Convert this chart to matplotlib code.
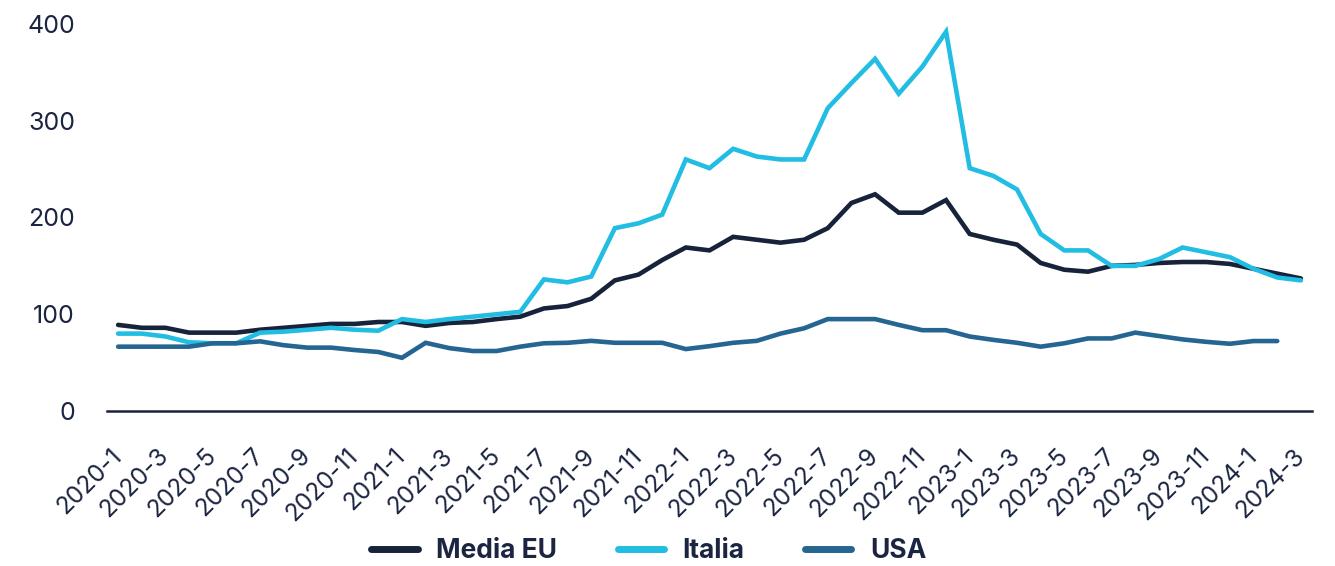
import matplotlib
matplotlib.use("Agg")
import matplotlib.pyplot as plt
import matplotlib.transforms as mtransforms

# ---- data ----
months = [f"{y}-{m}" for y in range(2020, 2025) for m in range(1, 13)][:51]

media_eu = [89, 86, 86, 81, 81, 81, 84, 86, 88, 90, 90, 92, 92, 88, 91, 92, 95, 97.5,
            106, 108.5, 116, 135, 141, 156, 169, 166, 180, 177, 174, 177, 189, 215, 224,
            205, 205, 218, 183, 177, 172, 153, 146, 144, 150, 151, 153, 154, 154, 152,
            147, 142, 137]
italia = [80, 80, 77, 71, 70, 70, 81, 82, 84, 86, 84, 83, 95, 92, 95, 97.5, 100, 102.5,
          136, 133, 139, 189, 194, 203, 260, 251, 271, 263, 260, 260, 313, 339, 364,
          328, 356, 392, 251, 243, 229, 183, 166, 166, 150, 150, 157, 169, 164, 159,
          147, 138, 135]
usa = [66.5, 66.5, 66.5, 66.5, 70, 70, 72, 68, 65.5, 65.5, 63, 61, 55, 70.5, 65, 62, 62,
       66.5, 70, 70.5, 72.5, 70.5, 70.5, 70.5, 64, 67, 70.5, 72.5, 80, 85.5, 95, 95, 95,
       89, 83.5, 83.5, 77, 73.5, 70.5, 66.5, 70, 75, 75, 81, 77.5, 74, 71.5, 69.5,
       72.3, 72.3]

series_names = ["Media EU", "Italia", "USA"]
series_colors = ["#16233b", "#21bde2", "#246592"]
yticks = [0, 100, 200, 300, 400]

# ---- plot ----
plt.rcParams['font.family'] = ['Inter', 'DejaVu Sans']
text_color = "#1b2541"

fig = plt.figure(figsize=(13.35, 5.66), dpi=100)
ax = fig.add_axes([107 / 1335, 1 - 411 / 566, (1312 - 107) / 1335, (411 - 24) / 566])

x_all = list(range(len(months)))
for name, vals, col in zip(series_names, [media_eu, italia, usa], series_colors):
    ax.plot(x_all[:len(vals)], vals, color=col, lw=3.3, label=name,
            solid_capstyle='round', solid_joinstyle='miter')

ax.set_ylim(0, 400)
ax.set_xlim(-0.47, 50.47)
ax.set_yticks(yticks)
ax.set_yticklabels([str(v) for v in yticks])
ax.set_xticks(x_all[::2])
ax.set_xticklabels(months[::2])

for s in ["top", "right", "left"]:
    ax.spines[s].set_visible(False)
ax.spines["bottom"].set_color("#16233b")
ax.spines["bottom"].set_linewidth(1.8)

ax.tick_params(axis='y', length=0, pad=23, labelsize=18, labelcolor=text_color)
ax.tick_params(axis='x', length=0, pad=24, labelsize=17.5, labelcolor=text_color)

offset = mtransforms.ScaledTranslation(8 / 100, 0, fig.dpi_scale_trans)
for lbl in ax.get_xticklabels():
    lbl.set_rotation(45)
    lbl.set_ha('right')
    lbl.set_va('top')
    lbl.set_transform(lbl.get_transform() + offset)

leg = fig.legend(loc='center', bbox_to_anchor=(0.486, 1 - 551 / 566), ncol=3,
                 frameon=False, prop={'weight': 'bold', 'size': 19},
                 handlelength=1.75, handletextpad=0.7, columnspacing=2.3)
for t in leg.get_texts():
    t.set_color(text_color)
for h in leg.get_lines():
    h.set_linewidth(5)

fig.savefig("out.png", dpi=100)
